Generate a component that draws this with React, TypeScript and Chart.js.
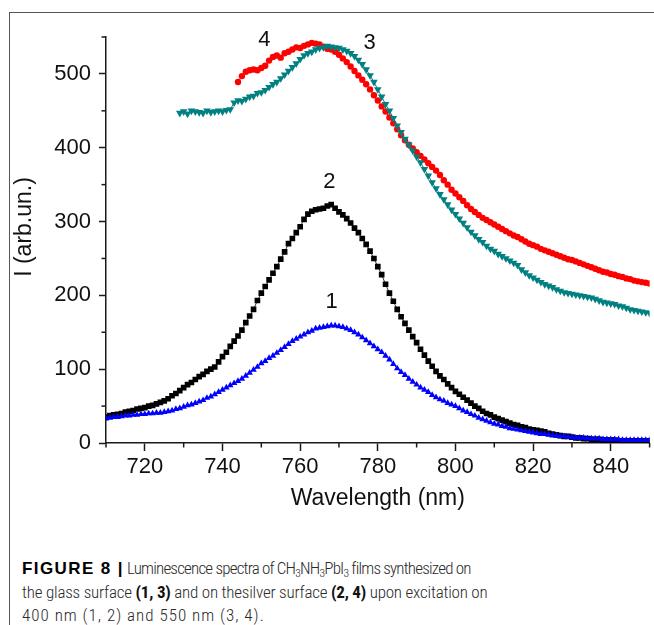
import { useEffect, useRef } from 'react';
import { Chart, registerables } from 'chart.js';

Chart.register(...registerables);

// ---- axes ----
const X_MIN = 710;
const X_MAX = 850;
const Y_MIN = 0;
const Y_MAX = 550;
const X_TICK_LABELS = [720, 740, 760, 780, 800, 820, 840];
const Y_TICK_LABELS = [0, 100, 200, 300, 400, 500];
const X_TITLE = 'Wavelength (nm)';
const Y_TITLE = 'I (arb.un.)';

// ---- series (1 nm sampling, starting wavelength given) ----
// 1: glass, 400 nm excitation
const S1_START = 710;
const S1 = [
  33, 34, 35, 35, 36, 37, 37, 38, 38, 39,
  39, 40, 40, 41, 41, 42, 43, 44, 46, 47,
  49, 51, 52, 54, 56, 58, 61, 63, 66, 69,
  72, 75, 78, 81, 84, 87, 91, 95, 99, 103,
  108, 111, 115, 118, 122, 126, 130, 134, 138, 141,
  144, 147, 150, 152, 155, 156, 157, 158, 159, 159,
  158, 157, 155, 153, 150, 147, 143, 139, 135, 131,
  127, 123, 118, 113, 107, 101, 96, 92, 87, 83,
  79, 75, 72, 69, 65, 62, 59, 57, 54, 52,
  50, 47, 44, 42, 39, 37, 34, 32, 30, 28,
  26, 25, 23, 22, 20, 19, 18, 17, 16, 15,
  14, 13, 12, 12, 11, 10, 10, 9, 9, 8,
  8, 7, 7, 7, 6, 6, 6, 6, 5, 5,
  5, 5, 5, 4, 4, 4, 4, 4, 4, 4, 4,
];
// 2: silver, 400 nm excitation
const S2_START = 710;
const S2 = [
  35, 37, 38, 39, 40, 42, 43, 44, 46, 47,
  48, 50, 51, 53, 55, 57, 60, 64, 67, 71,
  75, 79, 82, 86, 90, 93, 97, 100, 103, 110,
  117, 123, 131, 138, 145, 153, 163, 172, 181, 193,
  203, 212, 221, 230, 239, 249, 259, 270, 277, 285,
  293, 303, 310, 314, 316, 317, 318, 321, 323, 318,
  313, 309, 304, 298, 291, 285, 277, 269, 260, 250,
  239, 228, 215, 203, 192, 181, 171, 162, 153, 144,
  136, 127, 119, 111, 104, 97, 91, 86, 80, 75,
  70, 66, 62, 58, 54, 50, 47, 43, 40, 38,
  35, 33, 31, 29, 27, 25, 24, 22, 21, 19,
  18, 17, 16, 15, 13, 12, 11, 10, 9, 9,
  8, 7, 7, 6, 6, 5, 5, 5, 4, 4,
  4, 4, 3, 3, 3, 3, 3, 3, 3, 3, 3,
];
// 3: glass, 550 nm excitation
const S3_START = 729;
const S3 = [
  447,
  449, 446, 450, 449, 448, 447, 450, 448, 449, 450,
  449, 451, 452, 461, 464, 463, 466, 469, 470, 474,
  475, 478, 482, 486, 489, 494, 499, 504, 509, 514,
  520, 525, 528, 530, 533, 535, 536, 538, 537, 536,
  535, 533, 531, 528, 524, 519, 513, 506, 498, 489,
  479, 469, 459, 450, 440, 430, 421, 412, 404, 396,
  388, 380, 371, 362, 353, 345, 337, 330, 323, 316,
  310, 304, 298, 292, 286, 281, 276, 272, 267, 263,
  260, 256, 253, 250, 247, 244, 241, 235, 231, 227,
  224, 221, 218, 215, 213, 211, 208, 206, 204, 203,
  202, 201, 200, 199, 198, 197, 195, 193, 191, 190,
  189, 188, 186, 185, 183, 181, 180, 179, 178, 177, 176,
];
// 4: silver, 550 nm excitation
const S4_START = 744;
const S4 = [
  489, 497, 503, 505, 506, 505,
  508, 511, 518, 523, 525, 522, 528, 530, 533, 536,
  535, 538, 540, 542, 541, 540, 537, 534, 533, 530,
  526, 521, 516, 510, 504, 498, 492, 486, 479, 471,
  464, 456, 449, 441, 433, 425, 417, 410, 404, 399,
  394, 389, 384, 379, 374, 369, 363, 356, 350, 343,
  338, 333, 328, 322, 317, 313, 309, 305, 302, 299,
  296, 293, 290, 287, 284, 281, 279, 276, 273, 270,
  268, 266, 263, 261, 259, 257, 255, 253, 251, 249,
  248, 246, 244, 242, 240, 238, 236, 234, 232, 231,
  229, 228, 226, 225, 223, 222, 220, 219, 218, 217, 216,
];

// curve number labels
const CURVE_LABELS = ['1', '2', '3', '4'];
const CURVE_LABEL_X = [768.1, 767.5, 777.9, 750.8];
const CURVE_LABEL_Y = [194, 356, 544, 549];

const FONT = '"Liberation Sans", Arial, Helvetica, sans-serif';
const TEXT_COLOR = '#111';
const AXIS_COLOR = '#1a1a1a';

function toPoints(start: number, vals: number[]) {
  return vals.map((v, i) => ({ x: start + i, y: v }));
}

const extrasPlugin = {
  id: 'extras',
  afterDraw(chart: any) {
    const { ctx, chartArea, scales } = chart;
    const xs = scales.x;
    const ys = scales.y;
    ctx.save();
    // minor ticks
    ctx.strokeStyle = AXIS_COLOR;
    ctx.lineWidth = 1.5;
    xs.ticks.forEach((t: any) => {
      if (!X_TICK_LABELS.includes(t.value)) {
        const px = xs.getPixelForValue(t.value);
        ctx.beginPath();
        ctx.moveTo(px, chartArea.bottom);
        ctx.lineTo(px, chartArea.bottom + 4.5);
        ctx.stroke();
      }
    });
    ys.ticks.forEach((t: any) => {
      if (!Y_TICK_LABELS.includes(t.value)) {
        const py = ys.getPixelForValue(t.value);
        ctx.beginPath();
        ctx.moveTo(chartArea.left, py);
        ctx.lineTo(chartArea.left - 4.5, py);
        ctx.stroke();
      }
    });
    // y title
    ctx.fillStyle = TEXT_COLOR;
    ctx.font = `23px ${FONT}`;
    ctx.save();
    ctx.translate(25, chartArea.top + 190);
    ctx.rotate(-Math.PI / 2);
    ctx.textAlign = 'center';
    ctx.textBaseline = 'middle';
    ctx.fillText(Y_TITLE, 0, 0);
    ctx.restore();
    // curve labels
    ctx.font = `22px ${FONT}`;
    ctx.textAlign = 'center';
    ctx.textBaseline = 'alphabetic';
    CURVE_LABELS.forEach((lab, i) => {
      const px = xs.getPixelForValue(CURVE_LABEL_X[i]);
      const py = ys.getPixelForValue(CURVE_LABEL_Y[i]);
      ctx.fillText(lab, px, py + 22 * 0.358);
    });
    ctx.restore();
  },
};

export default function App() {
  const ref = useRef<HTMLCanvasElement | null>(null);

  useEffect(() => {
    if (!ref.current) return;
    const chart = new Chart(ref.current, {
      type: 'scatter',
      data: {
        datasets: [
          {
            label: '1',
            data: toPoints(S1_START, S1),
            showLine: true,
            borderColor: '#0000ff',
            backgroundColor: '#0000ff',
            borderWidth: 1,
            pointStyle: 'triangle',
            pointRadius: 3.8,
            pointBorderWidth: 0,
            order: 1,
          },
          {
            label: '2',
            data: toPoints(S2_START, S2),
            showLine: true,
            borderColor: '#000000',
            backgroundColor: '#000000',
            borderWidth: 0.8,
            pointStyle: 'rect',
            pointRadius: 4,
            pointBorderWidth: 0,
            order: 2,
          },
          {
            label: '3',
            data: toPoints(S3_START, S3),
            showLine: true,
            borderColor: '#008080',
            backgroundColor: '#008080',
            borderWidth: 1,
            pointStyle: 'triangle',
            rotation: 180,
            pointRadius: 4.4,
            pointBorderWidth: 0,
            order: 3,
          },
          {
            label: '4',
            data: toPoints(S4_START, S4),
            showLine: true,
            borderColor: '#ff0000',
            backgroundColor: '#ff0000',
            borderWidth: 1,
            pointStyle: 'circle',
            pointRadius: 3.2,
            pointBorderWidth: 0,
            order: 4,
          },
        ],
      },
      options: {
        animation: false,
        responsive: false,
        devicePixelRatio: 1,
        layout: { padding: { top: 37, right: 1, bottom: 0, left: 0 } },
        plugins: {
          legend: { display: false },
          tooltip: { enabled: false },
        },
        scales: {
          x: {
            type: 'linear',
            min: X_MIN,
            max: X_MAX,
            afterFit: (s: any) => {
              s.height = 77;
            },
            ticks: {
              stepSize: 10,
              autoSkip: false,
              maxRotation: 0,
              padding: 3,
              color: TEXT_COLOR,
              font: { family: FONT, size: 22 },
              callback: (v: any) => (X_TICK_LABELS.includes(v) ? String(v) : ''),
            },
            grid: {
              display: true,
              drawOnChartArea: false,
              drawTicks: true,
              tickLength: 8,
              tickWidth: 1.5,
              tickColor: (c: any) =>
                c.tick && X_TICK_LABELS.includes(c.tick.value) ? AXIS_COLOR : 'rgba(0,0,0,0)',
            },
            border: { display: true, color: AXIS_COLOR, width: 1.5 },
            title: {
              display: true,
              text: X_TITLE,
              color: TEXT_COLOR,
              font: { family: FONT, size: 23 },
              padding: { top: 0, bottom: 7.5 },
            },
          },
          y: {
            type: 'linear',
            min: Y_MIN,
            max: Y_MAX,
            afterFit: (s: any) => {
              s.width = 106;
            },
            ticks: {
              stepSize: 50,
              autoSkip: false,
              padding: 8,
              color: TEXT_COLOR,
              font: { family: FONT, size: 22 },
              callback: (v: any) => (Y_TICK_LABELS.includes(v) ? String(v) : ''),
            },
            grid: {
              display: true,
              drawOnChartArea: false,
              drawTicks: true,
              tickLength: 7,
              tickWidth: 1.5,
              tickColor: (c: any) =>
                c.tick && Y_TICK_LABELS.includes(c.tick.value) ? AXIS_COLOR : 'rgba(0,0,0,0)',
            },
            border: { display: true, color: AXIS_COLOR, width: 1.5 },
          },
        },
      },
      plugins: [extrasPlugin],
    } as any);
    return () => chart.destroy();
  }, []);

  const subStyle: React.CSSProperties = { fontSize: '0.68em', verticalAlign: '-0.25em', lineHeight: 0 };
  const capFont = '"Roboto Condensed", "Liberation Sans Narrow", "Liberation Sans", Arial, sans-serif';
  const lineStyle: React.CSSProperties = { whiteSpace: 'nowrap', height: 23.5 };
  const boldWide: React.CSSProperties = {
    fontFamily: '"Liberation Sans", Arial, sans-serif',
    fontWeight: 700,
    letterSpacing: '1.4px',
    color: '#000',
  };
  const boldPart: React.CSSProperties = { fontWeight: 700, color: '#111' };

  return (
    <div
      style={{
        position: 'fixed',
        left: 0,
        top: 0,
        width: 654,
        height: 625,
        overflow: 'hidden',
        background: '#ffffff',
      }}
    >
      <div
        style={{
          position: 'absolute',
          left: 9,
          top: 12,
          width: 700,
          height: 700,
          borderLeft: '1.5px solid #555',
          borderTop: '1.5px solid #555',
        }}
      />
      <canvas
        ref={ref}
        width={654}
        height={520}
        style={{ position: 'absolute', left: 0, top: 0, width: 654, height: 520, display: 'block' }}
      />
      <div
        style={{
          position: 'absolute',
          left: 22,
          top: 557,
          fontFamily: capFont,
          fontWeight: 300,
          fontSize: 17,
          lineHeight: '23.5px',
          color: '#2a2a2a',
        }}
      >
        <div style={{ ...lineStyle, letterSpacing: '-0.8px' }}>
          <span style={boldWide}>FIGURE 8 |</span> Luminescence spectra of CH<span style={subStyle}>3</span>NH
          <span style={subStyle}>3</span>PbI<span style={subStyle}>3</span> films synthesized on
        </div>
        <div style={{ ...lineStyle, letterSpacing: '-0.2px' }}>
          the glass surface <span style={boldPart}>(1, 3)</span> and on thesilver surface{' '}
          <span style={boldPart}>(2, 4)</span> upon excitation on
        </div>
        <div style={{ ...lineStyle, letterSpacing: '1px' }}>400 nm (1, 2) and 550 nm (3, 4).</div>
      </div>
    </div>
  );
}
